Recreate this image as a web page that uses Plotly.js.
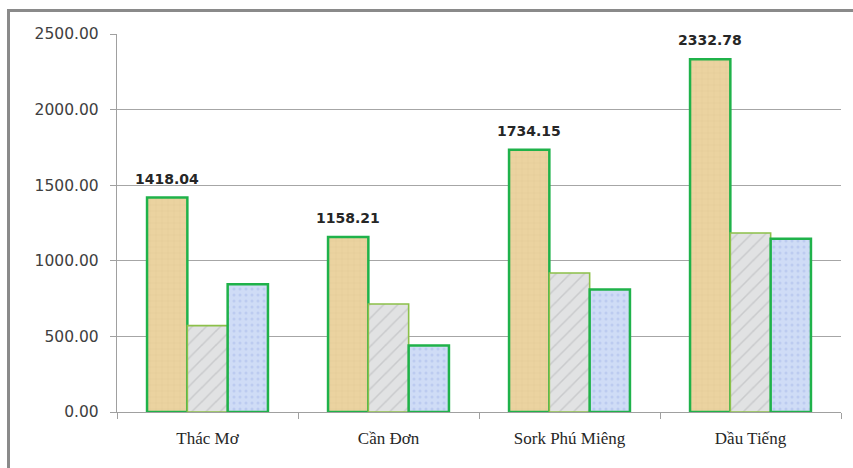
<!DOCTYPE html>
<html>
<head>
<meta charset="utf-8">
<script src="https://cdn.plot.ly/plotly-3.0.1.min.js"></script>
<style>
  html, body { margin: 0; padding: 0; background: #ffffff; overflow: hidden; }
  #wrap { position: relative; width: 853px; height: 468px; }
  #chart { position: absolute; left: 0; top: 0; width: 853px; height: 468px; }
  #frame { position: absolute; left: 7px; top: 9px; width: 900px; height: 500px;
           border-left: 3px solid #8a8a8a; border-top: 3px solid #8a8a8a; pointer-events: none; }
</style>
</head>
<body>
<div id="wrap">
  <div id="chart"></div>
  <div id="frame"></div>
</div>
<script>
// ---- data ----
var categories = ["Thác Mơ", "Cần Đơn", "Sork Phú Miêng", "Dầu Tiếng"];
var series1 = [1418.04, 1158.21, 1734.15, 2332.78];
var series2 = [571, 714, 919, 1184];
var series3 = [845, 439, 811, 1146];
var yTicks = [0, 500, 1000, 1500, 2000, 2500];

var bargap = 0.332;

function barTrace(vals, fill, lineColor, lineWidth, pattern) {
  pattern.bgcolor = fill;
  return {
    type: "bar",
    x: categories,
    y: vals,
    marker: { color: fill, line: { color: lineColor, width: lineWidth }, pattern: pattern },
    hoverinfo: "x+y",
    showlegend: false
  };
}

var traces = [
  barTrace(series1, "#ebd3a0", "#1fb24a", 2.5,
    { shape: "+", fgcolor: "#e0c48e", size: 6, solidity: 0.1 }),
  barTrace(series2, "#e1e2e3", "#8cc04a", 1.6,
    { shape: "/", fgcolor: "#c9cacc", size: 10, solidity: 0.15 }),
  barTrace(series3, "#cfdcf6", "#1fb24a", 2.5,
    { shape: ".", fgcolor: "#bccbf0", size: 6, solidity: 0.2 })
];

// value labels above the first series, positioned at that series' bar centre
var nSeries = traces.length;
var barWidth = (1 - bargap) / nSeries;
var annotations = series1.map(function (v, i) {
  return {
    x: i - barWidth,
    y: v,
    xref: "x",
    yref: "y",
    text: v.toFixed(2),
    showarrow: false,
    yanchor: "bottom",
    yshift: 9,
    font: { family: "DejaVu Sans", size: 14, color: "#262626", weight: "bold" }
  };
});

var layout = {
  width: 853,
  height: 468,
  margin: { l: 117, r: 12, t: 34, b: 56, pad: 0 },
  paper_bgcolor: "#ffffff",
  plot_bgcolor: "#ffffff",
  barmode: "group",
  bargap: bargap,
  bargroupgap: 0,
  showlegend: false,
  xaxis: {
    type: "category",
    showline: true,
    linecolor: "#a0a0a0",
    linewidth: 1.2,
    ticks: "outside",
    tickson: "boundaries",
    ticklen: 6,
    tickcolor: "#a0a0a0",
    ticklabelstandoff: 10,
    tickfont: { family: "Liberation Serif", size: 17, color: "#262626" },
    showgrid: false,
    zeroline: false,
    fixedrange: true
  },
  yaxis: {
    range: [0, 2500],
    tickvals: yTicks,
    ticktext: yTicks.map(function (t) { return t.toFixed(2); }),
    showline: true,
    linecolor: "#a0a0a0",
    linewidth: 1.2,
    ticks: "outside",
    ticklen: 6,
    tickcolor: "#a0a0a0",
    ticklabelstandoff: 8,
    tickfont: { family: "DejaVu Sans", size: 15.5, color: "#404040" },
    showgrid: true,
    gridcolor: "#a6a6a6",
    gridwidth: 1.2,
    zeroline: false,
    fixedrange: true
  },
  annotations: annotations
};

Plotly.newPlot("chart", traces, layout, { displayModeBar: false, staticPlot: true });
</script>
</body>
</html>
